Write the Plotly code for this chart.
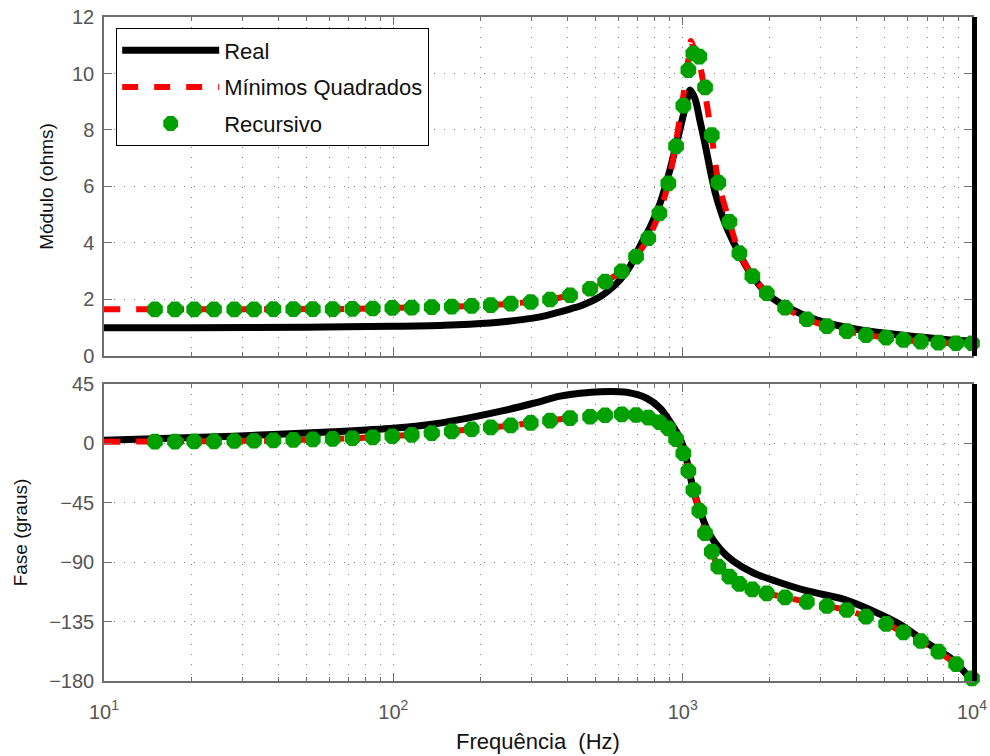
import plotly.graph_objects as go

# Frequency response of the impedance: measured curve vs. two identified models

# Real (measured) impedance magnitude
real_mag_freq = [10, 20, 50, 100, 150, 216, 250, 300, 340, 377,
                 410, 450, 518, 560, 608, 660, 713, 771, 835, 904,
                 980, 1012, 1036, 1061, 1104, 1149, 1195, 1244, 1294, 1347,
                 1413, 1494, 1592, 1710, 1958, 2295, 2915, 3791, 4930, 6460,
                 8400, 10000]
real_mag = [1.0, 1.0, 1.02, 1.05, 1.09, 1.17, 1.23, 1.33, 1.44, 1.56,
            1.67, 1.8, 2.1, 2.35, 2.7, 3.2, 3.9, 4.55, 5.4, 6.6,
            8.05, 8.65, 9.1, 9.42, 9.1, 8.3, 7.5, 6.6, 5.8, 5.2,
            4.6, 4.05, 3.5, 2.95, 2.2, 1.73, 1.27, 0.99, 0.81, 0.68,
            0.57, 0.53]

# Real (measured) impedance phase
real_phase_freq = [10, 28, 62, 100, 140, 179, 240, 305, 377, 442, 518, 640, 751, 836, 904, 966, 1005,
                   1046, 1089, 1155, 1232, 1350, 1496, 1750, 2100, 2720, 3590, 4660, 5630,
                   6970, 8600, 10000]
real_phase = [2.3, 5.5, 8.8, 11.4, 14.9, 19.0, 24.8, 30.4, 35.8, 38.0, 39.2, 38.7, 34.2, 26.6, 16.5, 6.4, -2.5,
              -18.0, -35.3, -52.9, -68.0, -80.3, -89.2, -98.0, -104.4, -112.0, -118.0, -128.0, -137.0,
              -151.0, -164.0, -180.0]

# Least-squares model (Mínimos Quadrados)
ls_freq = [10, 15, 20.5, 28, 38.5, 52.7, 72, 99, 136, 187, 255, 348, 408, 479, 539,
           616, 690, 761, 831, 892, 949, 1005, 1046, 1068, 1089, 1142, 1195, 1260, 1328, 1451,
           1570, 1741, 1953, 2259, 2686, 3150, 3692, 4304, 5050, 5794, 6653, 7655, 8812, 10000]
ls_mag = [1.65, 1.65, 1.65, 1.65, 1.66, 1.66, 1.67, 1.70, 1.73, 1.77, 1.85, 2.0, 2.15, 2.38, 2.63,
          3.0, 3.52, 4.17, 5.05, 6.11, 7.6, 9.2, 10.5, 11.15, 10.95, 10.4, 9.3, 7.8, 6.14, 4.75,
          3.64, 2.83, 2.22, 1.71, 1.3, 1.06, 0.88, 0.74, 0.65, 0.57, 0.51, 0.47, 0.45, 0.45]
ls_phase = [1.2, 1.5, 1.6, 1.8, 2.2, 2.9, 3.9, 5.4, 7.8, 10.7, 13.6, 17.3, 19.2, 20.2, 21.3,
            22.0, 21.5, 19.5, 16.0, 11.4, 3.3, -7.5, -20.9, -28.0, -35.3, -51.0, -68.0, -82.0, -93.4, -101.0,
            -106.5, -110.6, -113.6, -116.6, -120.0, -123.2, -126.2, -131.3, -136.8, -143.1, -149.7, -157.8,
            -167.2, -178.0]

# Recursive estimate, sampled frequencies
rec_freq = [15, 17.6, 20.5, 24, 28.2, 33, 38.5, 45.1, 52.7, 61.7,
            72.2, 84.9, 99.2, 115.8, 135.7, 159.2, 186.6, 217.1, 254.6, 298.5,
            348.1, 408.1, 478.6, 539.3, 615.9, 690.1, 760.9, 830.9, 892.4, 949,
            1005.5, 1046.4, 1088.9, 1141.9, 1195, 1260.5, 1328.5, 1450.7, 1570.4, 1741.4,
            1953.2, 2259.4, 2685.6, 3149.9, 3692.5, 4304, 5050, 5794, 6653, 7655,
            8812, 10000]
rec_mag = [1.65, 1.65, 1.65, 1.65, 1.65, 1.65, 1.66, 1.66, 1.66, 1.66,
           1.67, 1.68, 1.70, 1.71, 1.73, 1.75, 1.77, 1.80, 1.85, 1.91,
           2.00, 2.15, 2.38, 2.63, 3.00, 3.52, 4.17, 5.05, 6.11, 7.43,
           8.86, 10.12, 10.71, 10.60, 9.51, 7.82, 6.14, 4.75, 3.64, 2.83,
           2.22, 1.71, 1.30, 1.06, 0.88, 0.74, 0.65, 0.57, 0.51, 0.47,
           0.45, 0.45]
rec_phase = [1.3, 1.4, 1.5, 1.6, 1.8, 2.0, 2.3, 2.6, 3.0, 3.4,
             3.9, 4.6, 5.4, 6.5, 7.8, 9.1, 10.7, 12.2, 13.6, 15.5,
             17.3, 19.2, 20.2, 21.3, 22.0, 21.5, 19.5, 16.0, 11.4, 3.3,
             -7.5, -20.9, -35.3, -51.0, -68.0, -82.0, -93.4, -101.0, -106.5, -110.6,
             -113.6, -116.6, -120.0, -123.2, -126.2, -131.3, -136.8, -143.1, -149.7, -157.8,
             -167.2, -178.0]

# Axis ticks
x_ticks = [10, 100, 1000, 10000]
x_ticktext = ["10<sup>1</sup>", "10<sup>2</sup>", "10<sup>3</sup>", "10<sup>4</sup>"]
x_minor = [m * 10 ** e for e in range(1, 4) for m in range(2, 10)]
mag_ticks = [0, 2, 4, 6, 8, 10, 12]
phase_ticks = [-180, -135, -90, -45, 0, 45]

BLACK = "#000000"
RED = "#ff0000"
GREEN = "#00a000"
FRAME = "#6e6e6e"
GRID = "#808080"
FONT = "Liberation Sans, Arial, sans-serif"

fig = go.Figure()

real_line = dict(color=BLACK, width=7, shape="spline", smoothing=0.8)
ls_line = dict(color=RED, width=6, dash="16px,16px", shape="spline", smoothing=0.6)
rec_marker = dict(symbol="octagon", size=17, color=GREEN, line=dict(color=GREEN, width=0))

# upper panel: magnitude
fig.add_trace(go.Scatter(x=real_mag_freq, y=real_mag, name="Real", mode="lines",
                         line=real_line, xaxis="x", yaxis="y", legendgroup="real"))
fig.add_trace(go.Scatter(x=ls_freq, y=ls_mag, name="Mínimos Quadrados", mode="lines",
                         line=ls_line, xaxis="x", yaxis="y", legendgroup="ls"))
fig.add_trace(go.Scatter(x=rec_freq, y=rec_mag, name="Recursivo", mode="markers",
                         marker=rec_marker, cliponaxis=False,
                         xaxis="x", yaxis="y", legendgroup="rec"))

# lower panel: phase
fig.add_trace(go.Scatter(x=real_phase_freq, y=real_phase, name="Real", mode="lines",
                         line=real_line, xaxis="x2", yaxis="y2",
                         legendgroup="real", showlegend=False))
fig.add_trace(go.Scatter(x=ls_freq, y=ls_phase, name="Mínimos Quadrados", mode="lines",
                         line=ls_line, xaxis="x2", yaxis="y2",
                         legendgroup="ls", showlegend=False))
fig.add_trace(go.Scatter(x=rec_freq, y=rec_phase, name="Recursivo", mode="markers",
                         marker=rec_marker, cliponaxis=False,
                         xaxis="x2", yaxis="y2", legendgroup="rec", showlegend=False))

# empty traces that carry the heavy right-hand border axes
for xa, ya in (("x", "y3"), ("x2", "y4")):
    fig.add_trace(go.Scatter(x=[], y=[], xaxis=xa, yaxis=ya,
                             showlegend=False, hoverinfo="skip"))

tickfont = dict(family=FONT, size=20, color="#555555")
titlefont = dict(family=FONT, size=19, color="#111111")

common_x = dict(type="log", range=[1, 4], tickmode="array", tickvals=x_ticks,
                showline=True, linecolor=FRAME, linewidth=1.5, mirror="ticks",
                ticks="inside", ticklen=8, tickcolor=FRAME, tickwidth=1,
                showgrid=True, gridcolor=GRID, gridwidth=1, griddash="1px,9px",
                zeroline=False, automargin=False,
                minor=dict(tickmode="array", tickvals=x_minor, ticks="inside", ticklen=4,
                           tickcolor=FRAME, showgrid=True, gridcolor=GRID, gridwidth=1,
                           griddash="1px,9px"))

common_y = dict(showline=True, linecolor=FRAME, linewidth=1.5, mirror="ticks",
                ticks="inside", ticklen=8, tickcolor=FRAME,
                showgrid=True, gridcolor=GRID, gridwidth=1, griddash="1px,9px",
                zeroline=False, tickfont=tickfont, automargin=False,
                ticklabelstandoff=4)

border_y = dict(side="right", showline=True, linecolor=BLACK, linewidth=5,
                showticklabels=False, showgrid=False, zeroline=False, ticks="",
                automargin=False)

top_dom = [0.4895, 1.0]
bot_dom = [0.0, 0.4473]

fig.update_layout(
    width=990, height=756,
    margin=dict(l=104, r=18, t=17, b=75),
    paper_bgcolor="white", plot_bgcolor="white",
    font=dict(family=FONT),
    xaxis=dict(common_x, domain=[0, 1], anchor="y", showticklabels=False),
    yaxis=dict(common_y, domain=top_dom, anchor="x", range=[0, 12],
               tickmode="array", tickvals=mag_ticks,
               title=dict(text="Módulo (ohms)", font=titlefont, standoff=13)),
    xaxis2=dict(common_x, domain=[0, 1], anchor="y2", showticklabels=True,
                ticktext=x_ticktext, tickfont=tickfont, ticklabelstandoff=12,
                title=dict(text="Frequência\u00a0 (Hz)", font=dict(titlefont, size=22), standoff=12)),
    yaxis2=dict(common_y, domain=bot_dom, anchor="x2", range=[-180, 45],
                tickmode="array", tickvals=phase_ticks,
                title=dict(text="Fase (graus)", font=titlefont, standoff=17)),
    yaxis3=dict(border_y, overlaying="y", anchor="x", range=[0, 12]),
    yaxis4=dict(border_y, overlaying="y2", anchor="x2", range=[-180, 45]),
    legend=dict(x=0.0138, y=0.983, xanchor="left", yanchor="top",
                bgcolor="white", bordercolor=BLACK, borderwidth=1.2,
                font=dict(family=FONT, size=22, color="#111111"),
                itemwidth=97, traceorder="grouped", tracegroupgap=5),
    showlegend=True,
)

fig.write_html("out.html")
